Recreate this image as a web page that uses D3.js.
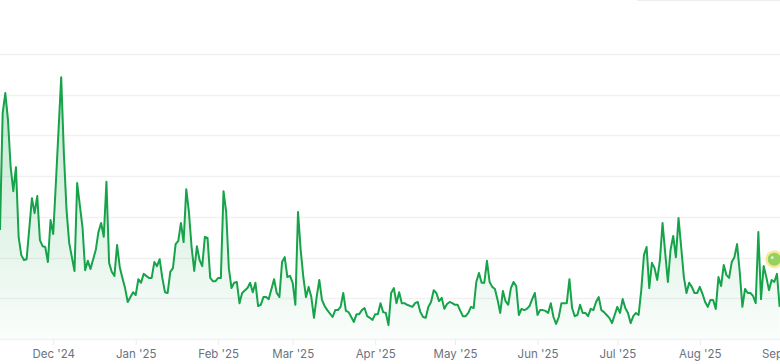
<!DOCTYPE html>
<html>
<head>
<meta charset="utf-8">
<script src="https://cdn.jsdelivr.net/npm/d3@7"></script>
<style>
  html, body { margin: 0; padding: 0; background: #fff; }
  svg { display: block; }
  .axis text { font-family: Inter, "Noto Sans", sans-serif; font-size: 11.5px; fill: #6b7280; }
</style>
</head>
<body>
<svg id="chart" width="780" height="364"></svg>
<script>
// vertices, one per day where visible
const dates = [
  "2024-11-11","2024-11-12","2024-11-13","2024-11-14","2024-11-15","2024-11-16","2024-11-17","2024-11-18","2024-11-19","2024-11-20",
  "2024-11-21","2024-11-23","2024-11-24","2024-11-25","2024-11-26","2024-11-27","2024-11-28","2024-11-29","2024-11-30","2024-12-01",
  "2024-12-02","2024-12-04","2024-12-05","2024-12-06","2024-12-07","2024-12-09","2024-12-10","2024-12-12","2024-12-13","2024-12-14",
  "2024-12-15","2024-12-17","2024-12-18","2024-12-19","2024-12-20","2024-12-21","2024-12-22","2024-12-23","2024-12-24","2024-12-25",
  "2024-12-26","2024-12-27","2024-12-28","2024-12-29","2024-12-31","2025-01-01","2025-01-02","2025-01-03","2025-01-04","2025-01-06",
  "2025-01-07","2025-01-08","2025-01-09","2025-01-10","2025-01-11","2025-01-12","2025-01-13","2025-01-14","2025-01-15","2025-01-16",
  "2025-01-17","2025-01-18","2025-01-19","2025-01-20","2025-01-21","2025-01-22","2025-01-23","2025-01-24","2025-01-25","2025-01-26",
  "2025-01-27","2025-01-28","2025-01-29","2025-01-30","2025-01-31","2025-02-01","2025-02-02","2025-02-03","2025-02-04","2025-02-05",
  "2025-02-06","2025-02-07","2025-02-08","2025-02-09","2025-02-10","2025-02-12","2025-02-13","2025-02-14","2025-02-15","2025-02-16",
  "2025-02-17","2025-02-18","2025-02-19","2025-02-20","2025-02-22","2025-02-23","2025-02-24","2025-02-25","2025-02-26","2025-02-27",
  "2025-02-28","2025-03-01","2025-03-02","2025-03-03","2025-03-04","2025-03-05","2025-03-06","2025-03-07","2025-03-08","2025-03-09",
  "2025-03-10","2025-03-11","2025-03-12","2025-03-13","2025-03-14","2025-03-16","2025-03-17","2025-03-18","2025-03-19","2025-03-20",
  "2025-03-21","2025-03-22","2025-03-23","2025-03-24","2025-03-25","2025-03-26","2025-03-27","2025-03-28","2025-03-29","2025-03-30",
  "2025-03-31","2025-04-01","2025-04-02","2025-04-03","2025-04-04","2025-04-05","2025-04-06","2025-04-07","2025-04-08","2025-04-09",
  "2025-04-10","2025-04-11","2025-04-12","2025-04-13","2025-04-15","2025-04-16","2025-04-17","2025-04-18","2025-04-19","2025-04-20",
  "2025-04-21","2025-04-22","2025-04-23","2025-04-24","2025-04-25","2025-04-26","2025-04-27","2025-04-28","2025-04-29","2025-04-30",
  "2025-05-01","2025-05-02","2025-05-03","2025-05-04","2025-05-05","2025-05-06","2025-05-07","2025-05-08","2025-05-09","2025-05-10",
  "2025-05-11","2025-05-12","2025-05-13","2025-05-14","2025-05-15","2025-05-16","2025-05-17","2025-05-18","2025-05-19","2025-05-20",
  "2025-05-21","2025-05-22","2025-05-23","2025-05-24","2025-05-25","2025-05-26","2025-05-27","2025-05-28","2025-05-29","2025-05-30",
  "2025-05-31","2025-06-01","2025-06-02","2025-06-03","2025-06-04","2025-06-05","2025-06-06","2025-06-07","2025-06-08","2025-06-09",
  "2025-06-10","2025-06-11","2025-06-12","2025-06-13","2025-06-14","2025-06-15","2025-06-16","2025-06-17","2025-06-18","2025-06-19",
  "2025-06-20","2025-06-21","2025-06-22","2025-06-23","2025-06-24","2025-06-25","2025-06-26","2025-06-27","2025-06-28","2025-06-29",
  "2025-06-30","2025-07-01","2025-07-02","2025-07-03","2025-07-04","2025-07-05","2025-07-06","2025-07-07","2025-07-08","2025-07-09",
  "2025-07-10","2025-07-11","2025-07-12","2025-07-13","2025-07-14","2025-07-15","2025-07-16","2025-07-17","2025-07-18","2025-07-19",
  "2025-07-20","2025-07-21","2025-07-22","2025-07-23","2025-07-24","2025-07-25","2025-07-26","2025-07-27","2025-07-28","2025-07-29",
  "2025-07-30","2025-07-31","2025-08-01","2025-08-02","2025-08-03","2025-08-04","2025-08-05","2025-08-06","2025-08-07","2025-08-08",
  "2025-08-09","2025-08-10","2025-08-11","2025-08-12","2025-08-13","2025-08-14","2025-08-15","2025-08-16","2025-08-17","2025-08-18",
  "2025-08-19","2025-08-20","2025-08-21","2025-08-22","2025-08-23","2025-08-24","2025-08-25","2025-08-26","2025-08-27","2025-08-28",
  "2025-08-29","2025-08-30","2025-08-31"
];

const values = [
  26.8,55.5,60.4,53.8,42.2,36.3,42.2,25.1,20.6,19.4,
  19.6,34.6,30.9,35.1,24.3,22.8,22.6,18.9,29.2,25.8,
  38.3,64.3,45.7,31.7,23.6,16.7,38.3,27.5,16.9,19.2,
  17.2,21.9,26.3,28.5,25.1,38.6,18.7,16.5,15.5,23.1,
  17.7,15.0,12.5,9.1,11.5,10.8,14.7,13.8,16.0,15.0,
  15.0,18.9,17.9,19.6,15.0,11.5,11.3,16.5,17.4,23.3,
  24.1,28.5,23.8,36.8,31.2,22.6,16.7,22.8,19.4,17.9,
  25.1,24.8,15.0,14.2,14.2,15.0,15.0,36.3,31.2,17.4,
  12.5,13.8,14.0,8.8,11.3,12.5,13.8,11.5,13.8,8.1,
  8.4,10.3,10.3,9.8,14.7,11.3,10.3,18.9,20.1,15.2,
  15.5,13.8,8.4,31.2,21.9,15.2,10.3,12.8,10.3,5.2,
  10.3,14.5,9.6,8.1,7.1,5.4,7.1,7.1,7.9,11.3,
  6.9,6.6,5.4,4.2,6.1,6.1,7.1,7.6,5.6,5.2,
  4.7,6.1,6.1,8.8,6.6,6.4,3.4,11.3,12.5,8.8,
  11.5,8.8,8.8,8.4,7.9,8.8,9.1,6.6,5.4,5.2,
  7.9,9.1,12.0,11.3,9.3,10.1,7.4,8.6,9.1,8.8,
  8.4,8.4,6.9,5.6,5.6,6.4,7.9,7.6,14.0,16.2,
  13.8,13.8,19.2,14.0,12.8,12.3,9.6,6.4,11.8,9.3,
  8.4,12.5,14.0,13.0,5.9,7.4,7.1,7.4,8.1,9.8,
  11.3,5.9,7.1,7.1,6.9,6.4,8.8,5.4,3.7,5.4,
  8.8,8.8,8.8,14.7,7.6,5.6,5.9,8.4,6.4,6.4,
  5.6,7.4,7.1,9.1,10.3,7.1,6.6,5.9,5.2,3.9,
  5.9,7.9,6.4,9.8,7.6,6.4,3.9,5.6,6.4,5.9,
  12.0,20.6,22.6,12.5,18.7,17.4,14.5,19.4,28.5,21.1,
  14.0,21.9,25.3,20.1,29.7,22.6,15.2,11.3,13.8,12.8,
  11.3,11.3,12.8,11.1,9.1,7.9,9.6,9.6,7.4,15.2,
  13.0,18.2,15.7,15.0,18.9,20.1,23.3,16.5,7.9,12.3,
  11.3,11.3,10.6,8.8,26.3,9.8,17.9,15.2,12.0,14.5,
  14.0,16.0,7.9
];

const yTicks = [0, 10, 20, 30, 40, 50, 60, 70];
const xStart = "2024-11-11";
const xEnd = "2025-09-01";
const markerDate = "2025-08-29";
const markerValue = 19.6;

const width = 780;
const height = 364;
const plotTop = 54;
const plotBottom = 339;

const parse = d3.timeParse("%Y-%m-%d");
const data = dates.map((d, i) => ({ date: parse(d), value: values[i] }));

const svg = d3.select("#chart");

const x = d3.scaleTime()
  .domain([parse(xStart), parse(xEnd)])
  .range([0, 782.3]);

const y = d3.scaleLinear()
  .domain([0, 70])
  .range([plotBottom, plotTop]);

// faint border of the panel above
svg.append("line")
  .attr("x1", 637).attr("x2", width)
  .attr("y1", 0.5).attr("y2", 0.5)
  .attr("stroke", "#eeeeee");

// gridlines
svg.append("g")
  .selectAll("line")
  .data(yTicks)
  .enter().append("line")
  .attr("x1", 0)
  .attr("x2", width)
  .attr("y1", d => Math.round(y(d)) + 0.5)
  .attr("y2", d => Math.round(y(d)) + 0.5)
  .attr("stroke", "#f1f1f1")
  .attr("stroke-width", 1.5);

const defs = svg.append("defs");
const grad = defs.append("linearGradient")
  .attr("id", "fillGrad")
  .attr("gradientUnits", "userSpaceOnUse")
  .attr("x1", 0).attr("x2", 0)
  .attr("y1", y(62)).attr("y2", y(0));
grad.append("stop").attr("offset", "0%").attr("stop-color", "#16a34a").attr("stop-opacity", 0.26);
grad.append("stop").attr("offset", "100%").attr("stop-color", "#16a34a").attr("stop-opacity", 0.02);

const area = d3.area()
  .x(d => x(d.date))
  .y0(y(0))
  .y1(d => y(d.value));

const line = d3.line()
  .x(d => x(d.date))
  .y(d => y(d.value));

svg.append("path")
  .datum(data)
  .attr("d", area)
  .attr("fill", "url(#fillGrad)");

svg.append("path")
  .datum(data)
  .attr("d", line)
  .attr("fill", "none")
  .attr("stroke", "#16a34a")
  .attr("stroke-width", 2)
  .attr("stroke-linejoin", "round");

// x axis
const xAxis = svg.append("g")
  .attr("class", "axis")
  .attr("transform", "translate(0," + plotBottom + ")")
  .call(d3.axisBottom(x)
    .ticks(d3.timeMonth.every(1))
    .tickFormat(d3.timeFormat("%b '%y"))
    .tickSize(6)
    .tickPadding(5));

xAxis.select(".domain").remove();
xAxis.selectAll(".tick line").attr("stroke", "#ececec");
xAxis.selectAll(".tick text").attr("dy", "0.71em");

// event marker
const mk = svg.append("g")
  .attr("transform", "translate(" + x(parse(markerDate)) + "," + y(markerValue) + ")");
mk.append("circle").attr("r", 9).attr("fill", "#f9e995");
mk.append("circle").attr("r", 6.5).attr("fill", "#94d15e");
mk.append("circle").attr("cx", -2).attr("cy", -1.5).attr("r", 1.4).attr("fill", "#e8efe4");
</script>
</body>
</html>
